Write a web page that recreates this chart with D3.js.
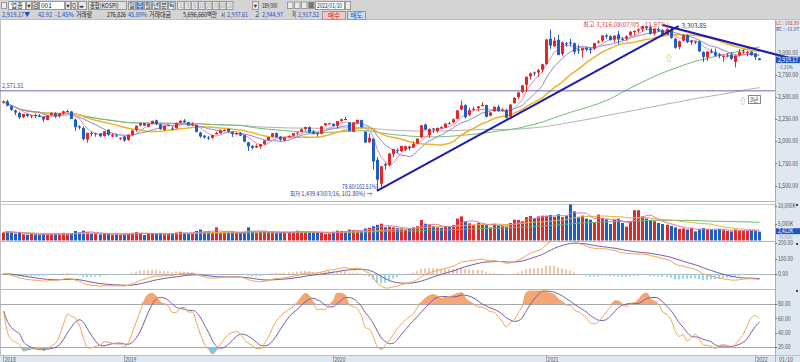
<!DOCTYPE html>
<html>
<head>
<meta charset="utf-8">
<script src="https://cdnjs.cloudflare.com/ajax/libs/d3/7.8.5/d3.min.js"></script>
<style>
body { margin: 0; background: #fff; }
svg { display: block; font-family: "Noto Sans CJK KR", "DejaVu Sans", sans-serif; }
</style>
</head>
<body>
<div id="chart"></div>
<script>
var w = 800, h = 362;
var plotRight = 775;

// Weekly KOSPI candles [open, high, low, close], first week = 2018/06/04
var ohlc2018 = [
	[2437,2461,2427,2451],[2451,2470,2396,2404],[2399,2410,2343,2357],[2349,2359,2297,2326],
	[2320,2337,2252,2272],[2275,2310,2262,2310],[2308,2314,2273,2289],[2285,2296,2262,2294],
	[2299,2314,2265,2287],[2287,2310,2275,2282],[2278,2286,2218,2247],[2240,2295,2240,2293],
	[2298,2325,2297,2322],[2318,2330,2267,2282],[2284,2318,2268,2318],[2317,2348,2306,2339],
	[2340,2356,2329,2343],[2338,2343,2253,2253],[2245,2259,2118,2161],[2170,2181,2136,2156],
	[2150,2167,2008,2027],[2020,2096,1985,2096],[2093,2110,2055,2086],[2080,2095,2052,2092],
	[2090,2095,2047,2057],[2060,2117,2052,2114],[2131,2136,2062,2075],[2055,2089,2046,2069],
	[2066,2083,2052,2061],[2037,2046,2014,2041]
];
var ohlc2019 = [
	[2050,2062,1993,2011],[2017,2078,2003,2075],[2070,2124,2064,2124],[2127,2178,2110,2177],
	[2180,2210,2170,2204],[2205,2206,2176,2177],[2165,2205,2158,2196],[2199,2235,2194,2231],
	[2238,2246,2182,2195],[2190,2202,2132,2137],[2130,2180,2120,2176],[2178,2188,2170,2186],
	[2145,2165,2128,2140],[2148,2210,2145,2209],[2210,2237,2200,2233],[2235,2252,2210,2216],
	[2217,2220,2176,2179],[2180,2215,2175,2196],[2185,2190,2100,2108],[2098,2110,2040,2055],
	[2065,2070,2030,2045],[2043,2060,2016,2041],[2040,2075,2030,2072],[2080,2108,2078,2095],
	[2090,2135,2085,2126],[2125,2136,2115,2130],[2140,2145,2100,2110],[2110,2112,2050,2086],
	[2087,2102,2070,2094],[2090,2106,2060,2066],[2070,2078,1990,1998],[1990,1995,1891,1943],
	[1950,1955,1910,1927],[1930,1965,1925,1948],[1940,1970,1915,1967],[1970,2010,1960,2009],
	[2015,2050,2010,2049],[2052,2095,2050,2091],[2092,2100,2045,2049],[2052,2060,2005,2020],
	[2010,2048,2000,2044],[2050,2070,2040,2060],[2063,2094,2060,2093],[2090,2100,2075,2100],
	[2110,2145,2105,2137],[2140,2165,2120,2162],[2160,2170,2095,2101],[2110,2126,2080,2087],
	[2095,2100,2055,2081],[2085,2172,2080,2170],[2180,2205,2170,2204],[2200,2210,2190,2204]
];
var ohlc2020 = [
	[2200,2202,2164,2176],[2175,2230,2141,2229],[2230,2255,2222,2250],[2253,2277,2240,2246],
	[2215,2217,2114,2119],[2110,2212,2108,2212],[2210,2245,2200,2243],[2240,2245,2150,2162],
	[2110,2112,1980,1987],[1990,2090,1980,2040],[2030,2032,1680,1771],[1790,1820,1439,1566],
	[1520,1720,1482,1717],[1740,1760,1680,1725],[1730,1870,1715,1860],[1855,1915,1820,1914],
	[1900,1920,1870,1889],[1890,1950,1880,1947],[1910,1950,1890,1945],[1942,1950,1900,1927],
	[1930,1995,1925,1970],[1975,2035,1970,2030],[2045,2185,2040,2181],[2190,2200,2130,2132],
	[2070,2145,2040,2141],[2145,2150,2095,2134],[2115,2155,2100,2152],[2160,2170,2140,2150],
	[2155,2205,2150,2201],[2205,2220,2195,2200],[2215,2260,2205,2249],[2255,2355,2250,2351],
	[2360,2460,2350,2407],[2410,2420,2260,2274],[2300,2380,2285,2353],[2360,2390,2340,2368],
	[2375,2400,2340,2396],[2400,2440,2395,2412],[2410,2415,2270,2278],[2290,2330,2285,2327],
	[2340,2395,2335,2391],[2390,2412,2335,2341],[2350,2375,2340,2360],[2350,2370,2260,2267],
	[2280,2420,2270,2416],[2430,2500,2430,2493],[2500,2560,2480,2553],[2560,2640,2545,2633],
	[2640,2735,2560,2731],[2735,2780,2700,2770],[2780,2790,2740,2772],[2780,2820,2730,2806],
	[2810,2878,2780,2873]
];
var ohlc2021 = [
	[2874,3161,2869,3152],[3161,3266,3047,3085],[3076,3180,3070,3140],[3150,3209,2976,2976],
	[2990,3130,2970,3120],[3110,3125,3070,3100],[3120,3160,3075,3107],[3110,3120,2988,3013],
	[3040,3095,2990,3026],[3030,3060,2950,3054],[3060,3070,3020,3039],[3050,3060,2995,3041],
	[3050,3115,3035,3112],[3120,3145,3105,3131],[3140,3200,3125,3198],[3200,3215,3160,3186],
	[3190,3200,3140,3147],[3150,3200,3120,3197],[3210,3250,3100,3153],[3160,3180,3140,3156],
	[3165,3200,3140,3188],[3200,3250,3190,3240],[3245,3255,3200,3249],[3255,3280,3230,3267],
	[3270,3305,3240,3302],[3300,3305,3260,3281],[3290,3316,3210,3217],[3220,3280,3200,3276],
	[3270,3290,3240,3254],[3260,3270,3190,3202],[3210,3280,3200,3270],[3270,3290,3160,3171],
	[3160,3170,3050,3060],[3070,3140,3040,3133],[3140,3210,3130,3201],[3200,3210,3110,3125],
	[3120,3150,3090,3140],[3130,3135,3100,3125],[3130,3140,3010,3019],[3010,3020,2900,2956],
	[2950,3020,2910,3015],[3020,3050,2995,3006],[3010,3050,2960,2970],[2980,3000,2940,2969],
	[2965,2975,2900,2968],[2970,3000,2950,2971],[2980,3010,2920,2936],[2900,2975,2837,2968],
	[2975,3045,2960,3010],[3010,3040,2990,3017],[3000,3025,2960,3012],[3015,3020,2970,2977]
];
var ohlc2022 = [
	[2990,3000,2920,2954],[2937.61,2944.97,2917.52,2919.17]
];

// Weekly volume, thousand shares
var vol2018 = [2200,2500,2300,1900,2100,1700,1600,1800,1700,1500,1900,1600,1700,1800,1600,2100,1700,1900,2600,2200,
	2700,2300,1900,1800,1700,2000,1800,1600,1700,1500];
var vol2019 = [1600,2000,2100,2300,2000,1500,1800,2000,1800,2100,1700,1800,1900,2200,2400,2100,1900,2000,2600,3000,
	2400,2500,2200,3600,2000,2300,2400,2300,2100,2100,2400,3600,2500,2200,2400,2400,2300,2200,2000,2100,
	2200,2300,2400,2700,2500,2300,2100,2200,2300,2200,1800,1900];
var vol2020 = [2400,2700,2600,2500,3000,2900,2700,2600,3300,3500,3900,4300,4600,3600,3800,3600,3400,3300,3000,3200,
	3600,3900,5600,4600,4200,3900,3600,3500,3800,3900,4200,6000,6600,5200,4700,4300,4800,4400,4200,3600,
	4600,4100,3900,3800,4800,5700,5600,5300,6400,6700,6100,6600,6800];
var vol2021 = [6800,7000,6500,7200,6400,6800,9900,8000,6500,6800,6000,5700,4900,7100,6200,5800,4500,5600,6000,4800,
	3800,5200,8300,8300,6600,6000,5600,5300,4800,4500,4300,4000,3600,3200,3300,3000,3500,2500,3100,3400,
	3000,3000,2900,3200,2800,2600,2500,3000,2700,2700,2600,2800];
var vol2022 = [2600,2412];

// Axis values
var priceTicks = [1500, 1750, 2000, 2250, 2500, 2750, 3000];
var volTicks = [5000, 10000];
var macdTicks = [0, 100, 200];
var stochTicks = [20, 40, 60, 80];
var yearTicks = [["2018", 0], ["2019", 30], ["2020", 82], ["2021", 135], ["2022", 187]];

// Marked values
var refLine = 2571.51;
var upTrend = [[93, 1439.43], [168, 3303.85]];
var downTrend = [[164, 3316.08], [198, 2915]];

var candles = ohlc2018.concat(ohlc2019, ohlc2020, ohlc2021, ohlc2022);
var volumes = vol2018.concat(vol2019, vol2020, vol2021, vol2022);
var closes = candles.map(function(d) { return d[3]; });

/* ##########################################################################
#### Indicator helpers
# */
var movingAvg = function(arr, n) {
	return arr.map(function(d, i) {
		return d3.mean(arr.slice(Math.max(0, i - n + 1), i + 1));
	});
};

var ema = function(arr, n) {
	var k = 2 / (n + 1), prev, out = [];
	arr.forEach(function(v, i) {
		prev = (i === 0) ? v : prev + k * (v - prev);
		out.push(prev);
	});
	return out;
};

var ema12 = ema(closes, 12), ema26 = ema(closes, 26);
var macd = ema12.map(function(d, i) { return d - ema26[i]; });
var signal = ema(macd, 9);
var osc = macd.map(function(d, i) { return d - signal[i]; });

// Slow stochastic 12,5,5
var fastK = candles.map(function(d, i) {
	var win = candles.slice(Math.max(0, i - 11), i + 1);
	var hh = d3.max(win, function(c) { return c[1]; });
	var ll = d3.min(win, function(c) { return c[2]; });
	return hh === ll ? 50 : (d[3] - ll) / (hh - ll) * 100;
});
var slowK = movingAvg(fastK, 5);
var slowD = movingAvg(slowK, 5);

/* ##########################################################################
#### Scales
# */
var x = d3.scaleLinear().domain([0, 188]).range([3, 759]);
var yP = d3.scaleLinear().domain([1500, 3000]).range([185.5, 53]);
var yV = d3.scaleLinear().domain([0, 10000]).range([240.5, 204]);
var yM = d3.scaleLinear().domain([0, 200]).range([273.8, 243.3]);
var yS = d3.scaleLinear().domain([20, 80]).range([347.3, 304]);

var upColor = "#e02828", downColor = "#1f5ec6";
var axisFill = "#dfe7f1";

// squeeze a label into the width the HTS font would use
var fit = function(sel, str, perChar) {
	var n = 0;
	for (var k = 0; k < str.length; k++) { n += str.charCodeAt(k) > 0x2e80 ? 2 : 1; }
	return sel.text(str).attr("textLength", n * perChar).attr("lengthAdjust", "spacingAndGlyphs");
};

var svg = d3.select("#chart").append("svg")
	.attr("width", w)
	.attr("height", h);

svg.append("rect").attr("width", w).attr("height", h).attr("fill", "#fff");

// Clip areas for the four panels
var panels = [["clipMain", 20, 181], ["clipVol", 201, 40], ["clipMacd", 241, 48], ["clipStoch", 289, 66]];
var defs = svg.append("defs");
panels.forEach(function(p) {
	defs.append("clipPath").attr("id", p[0])
		.append("rect").attr("x", 0).attr("y", p[1]).attr("width", plotRight).attr("height", p[2]);
});

// Axis strips
svg.append("rect").attr("x", plotRight).attr("y", 20).attr("width", w - plotRight).attr("height", h - 20).attr("fill", axisFill);
svg.append("rect").attr("x", 0).attr("y", 355).attr("width", w).attr("height", 7).attr("fill", axisFill);

var frame = svg.append("g").attr("class", "frame");
[201.5, 241.5, 289.5].forEach(function(yy) {
	frame.append("line").attr("x1", 0).attr("x2", plotRight).attr("y1", yy).attr("y2", yy)
		.attr("stroke", "#b9b9b9");
});
frame.append("line").attr("x1", plotRight + 0.5).attr("x2", plotRight + 0.5).attr("y1", 20).attr("y2", h)
	.attr("stroke", "#9fb0c6");
frame.append("line").attr("x1", 0.5).attr("x2", 0.5).attr("y1", 20).attr("y2", 355)
	.attr("stroke", "#c0c0c0");
frame.append("line").attr("x1", 0).attr("x2", w).attr("y1", 355.5).attr("y2", 355.5)
	.attr("stroke", "#b4c2d4");

// Reference grid lines
frame.append("line").attr("x1", 0).attr("x2", plotRight).attr("y1", Math.round(yV(10000)) + 0.5).attr("y2", Math.round(yV(10000)) + 0.5)
	.attr("stroke", "#c8c8c8");
frame.append("line").attr("x1", 0).attr("x2", plotRight).attr("y1", Math.round(yM(0)) + 0.5).attr("y2", Math.round(yM(0)) + 0.5)
	.attr("stroke", "#b0b0b0");
[20, 80].forEach(function(v) {
	frame.append("line").attr("x1", 0).attr("x2", plotRight).attr("y1", Math.round(yS(v)) + 0.5).attr("y2", Math.round(yS(v)) + 0.5)
		.attr("stroke", "#a8a8a8");
});

/* ##########################################################################
#### Price panel
# */
var main = svg.append("g").attr("clip-path", "url(#clipMain)");

var priceLine = function(arr) {
	return d3.line().x(function(d, i) { return x(i) + 0.5; }).y(function(d) { return yP(d); })(arr);
};

var maSpecs = [[120, "#b0b0b0", 1], [60, "#74b874", 1], [20, "#eeb22c", 1.5], [10, "#8c8cc8", 1], [5, "#e58ab8", 1]];
maSpecs.forEach(function(m) {
	main.append("path")
		.attr("d", priceLine(movingAvg(closes, m[0])))
		.attr("fill", "none")
		.attr("stroke", m[1])
		.attr("stroke-width", m[2]);
});

// 2,571.51 horizontal line
main.append("line")
	.attr("x1", 0).attr("x2", plotRight)
	.attr("y1", yP(refLine)).attr("y2", yP(refLine))
	.attr("stroke", "#6a6aae").attr("stroke-width", 1);

var candle = main.selectAll("g.candle")
	.data(candles)
	.enter()
	.append("g")
		.attr("class", "candle")
		.attr("fill", function(d) { return d[3] >= d[0] ? upColor : downColor; });

candle.append("rect")
	.attr("x", function(d, i) { return Math.round(x(i)); })
	.attr("width", 1)
	.attr("y", function(d) { return yP(d[1]); })
	.attr("height", function(d) { return yP(d[2]) - yP(d[1]); });

candle.append("rect")
	.attr("x", function(d, i) { return Math.round(x(i)) - 1; })
	.attr("width", 3)
	.attr("y", function(d) { return yP(Math.max(d[0], d[3])); })
	.attr("height", function(d) { return Math.max(1, Math.abs(yP(d[0]) - yP(d[3]))); });

// Trend lines
var trend = svg.append("g").attr("class", "trend");
[upTrend, downTrend].forEach(function(t) {
	trend.append("line")
		.attr("x1", x(t[0][0])).attr("y1", yP(t[0][1]))
		.attr("x2", x(t[1][0])).attr("y2", yP(t[1][1]))
		.attr("stroke", "#1c1ca8").attr("stroke-width", 2);
});

var notes = svg.append("g").attr("font-size", "6.5px");
fit(notes.append("text").attr("x", 2).attr("y", yP(refLine) - 2.5).attr("fill", "#4a4a98"), "2,571.51", 2.7);
fit(notes.append("text").attr("x", x(upTrend[1][0]) + 3).attr("y", yP(upTrend[1][1]) + 1.5).attr("fill", "#2a2a8a"), "3,303.85", 3.1);
fit(notes.append("text").attr("x", 583).attr("y", yP(3316.08) + 2).attr("fill", "#d04848"),
	"최고 3,316.08(07/05, -11.97%)", 2.95);
fit(notes.append("text").attr("x", 290).attr("y", 195.5).attr("fill", "#2a3a9a").attr("font-size", "6px"),
	"최저 1,439.43(03/16, 102.80%) →", 2.65);
fit(notes.append("text").attr("x", 342).attr("y", 189).attr("fill", "#2a3a9a").attr("font-size", "6px"),
	"78.60(102.51%)", 2.55);

// Small markers
notes.append("text").attr("x", 665).attr("y", 61).attr("fill", "#a8a020").attr("font-size", "8px").text("⇧");
notes.append("text").attr("x", 739).attr("y", 104).attr("fill", "#a8a020").attr("font-size", "8px").text("⇧");
notes.append("rect").attr("x", 748.5).attr("y", 95.5).attr("width", 12).attr("height", 8).attr("fill", "#fff").attr("stroke", "#888");
notes.append("text").attr("x", 750).attr("y", 102).attr("fill", "#333").attr("font-size", "5.5px").text("3년");

/* ##########################################################################
#### Volume panel
# */
var vol = svg.append("g").attr("clip-path", "url(#clipVol)");

vol.selectAll("rect")
	.data(volumes)
	.enter()
	.append("rect")
		.attr("x", function(d, i) { return Math.round(x(i)) - 1; })
		.attr("width", 3)
		.attr("y", function(d) { return yV(d); })
		.attr("height", function(d) { return yV(0) - yV(d); })
		.attr("fill", function(d, i) { return candles[i][3] >= candles[i][0] ? upColor : downColor; });

[[60, "#6cb86c"], [20, "#e8b040"], [5, "#e07aa8"]].forEach(function(m) {
	vol.append("path")
		.attr("d", d3.line().x(function(d, i) { return x(i) + 0.5; }).y(function(d) { return yV(d); })(movingAvg(volumes, m[0])))
		.attr("fill", "none").attr("stroke", m[1]).attr("stroke-width", 1);
});

/* ##########################################################################
#### MACD panel
# */
var mp = svg.append("g").attr("clip-path", "url(#clipMacd)");

mp.selectAll("rect")
	.data(osc)
	.enter()
	.append("rect")
		.attr("x", function(d, i) { return Math.round(x(i)) - 1; })
		.attr("width", 2)
		.attr("y", function(d) { return Math.min(yM(d), yM(0)); })
		.attr("height", function(d) { return Math.abs(yM(d) - yM(0)); })
		.attr("fill", function(d) { return d >= 0 ? "#f6c4a4" : "#98d6f0"; });

[[signal, "#7a5aa6"], [macd, "#f0a458"]].forEach(function(s) {
	mp.append("path")
		.attr("d", d3.line().x(function(d, i) { return x(i) + 0.5; }).y(function(d) { return yM(d); })(s[0]))
		.attr("fill", "none").attr("stroke", s[1]).attr("stroke-width", 1);
});

/* ##########################################################################
#### Stochastic panel
# */
var sp = svg.append("g").attr("clip-path", "url(#clipStoch)");

sp.append("path")
	.attr("d", d3.area().curve(d3.curveMonotoneX).x(function(d, i) { return x(i) + 0.5; })
		.y0(yS(80)).y1(function(d) { return yS(Math.max(80, d)); })(slowK))
	.attr("fill", "#f4a676");
sp.append("path")
	.attr("d", d3.area().curve(d3.curveMonotoneX).x(function(d, i) { return x(i) + 0.5; })
		.y0(yS(20)).y1(function(d) { return yS(Math.min(20, d)); })(slowK))
	.attr("fill", "#74c8ee");

[[slowD, "#7a5aa6"], [slowK, "#f0a458"]].forEach(function(s) {
	sp.append("path")
		.attr("d", d3.line().curve(d3.curveMonotoneX).x(function(d, i) { return x(i) + 0.5; }).y(function(d) { return yS(d); })(s[0]))
		.attr("fill", "none").attr("stroke", s[1]).attr("stroke-width", 1);
});

/* ##########################################################################
#### Right axis labels
# */
var axis = svg.append("g").attr("font-size", "6px").attr("fill", "#555");
var fmt2 = d3.format(",.2f");

var tickLabel = function(yy, label) {
	axis.append("line").attr("x1", plotRight).attr("x2", plotRight + 2).attr("y1", Math.round(yy) + 0.5).attr("y2", Math.round(yy) + 0.5)
		.attr("stroke", "#777");
	fit(axis.append("text").attr("x", plotRight + 3).attr("y", yy + 2.1), label, 2.5);
};

priceTicks.forEach(function(v) { tickLabel(yP(v), fmt2(v)); });
volTicks.forEach(function(v) { tickLabel(yV(v) + 1.5, d3.format(",")(v) + "K"); });
macdTicks.forEach(function(v) { tickLabel(yM(v), fmt2(v)); });
stochTicks.forEach(function(v) { tickLabel(yS(v), fmt2(v)); });

fit(axis.append("text").attr("x", plotRight + 1).attr("y", 25).attr("fill", "#d03838").attr("font-size", "5px"), "LC : 102.80", 2.1);
fit(axis.append("text").attr("x", plotRight + 1).attr("y", 30.5).attr("fill", "#2a4aa8").attr("font-size", "5px"), "RC : -11.97", 2.1);

// Current price and volume boxes
var last = candles[candles.length - 1];
axis.append("rect").attr("x", plotRight + 1).attr("y", yP(last[3]) - 3.5).attr("width", 24).attr("height", 6.5).attr("fill", "#2456c0");
fit(axis.append("text").attr("x", plotRight + 3).attr("y", yP(last[3]) + 1.8).attr("fill", "#fff"), fmt2(last[3]), 2.5);
fit(axis.append("text").attr("x", plotRight + 4).attr("y", yP(last[3]) + 8.8).attr("fill", "#2a4aa8").attr("font-size", "4.5px"), "-1.21%", 2.3);

var lastVol = volumes[volumes.length - 1];
axis.append("rect").attr("x", plotRight + 1).attr("y", yV(lastVol) - 3.5).attr("width", 24).attr("height", 6).attr("fill", "#2456c0");
fit(axis.append("text").attr("x", plotRight + 3).attr("y", yV(lastVol) + 1.5).attr("fill", "#fff"), d3.format(",")(lastVol) + "K", 2.5);
fit(axis.append("text").attr("x", plotRight + 4).attr("y", yV(lastVol) + 7).attr("fill", "#8a9ab8").attr("font-size", "4.5px"), "76.96%", 2.2);

// Panel markers
[204, 243, 290].forEach(function(yy) {
	axis.append("rect").attr("x", 796).attr("y", yy).attr("width", 2).attr("height", 2).attr("fill", "#444");
});

// Time axis
var xlab = svg.append("g").attr("font-size", "6px").attr("fill", "#555");
yearTicks.forEach(function(t) {
	xlab.append("line").attr("x1", Math.round(x(t[1])) + 0.5).attr("x2", Math.round(x(t[1])) + 0.5)
		.attr("y1", 355).attr("y2", 362).attr("stroke", "#9aa8bc");
	fit(xlab.append("text").attr("x", x(t[1]) + 1.5).attr("y", 361.5), t[0], 2.8);
});
fit(xlab.append("text").attr("x", plotRight + 4).attr("y", 361.5), "01/10", 2.8);

/* ##########################################################################
#### Toolbar
# */
var bar = svg.append("g").attr("font-size", "6.5px");
bar.append("rect").attr("width", w).attr("height", 20).attr("fill", "#d4d4d4");
bar.append("line").attr("x1", 0).attr("x2", w).attr("y1", 19.5).attr("y2", 19.5).attr("stroke", "#bdbdbd");

var box = function(bx, by, bw, bh, fill, label, color) {
	bar.append("rect").attr("x", bx + 0.5).attr("y", by + 0.5).attr("width", bw).attr("height", bh)
		.attr("fill", fill).attr("stroke", "#9a9a9a");
	if (label) {
		var t = bar.append("text").attr("x", bx + bw / 2 + 0.5).attr("y", by + bh - 1.5).attr("text-anchor", "middle")
			.attr("fill", color || "#222");
		if (label.length > 1 && label.charCodeAt(0) < 0x2e80) {
			fit(t, label, Math.min(2.6, (bw - 1.5) / label.length));
		} else {
			t.text(label);
		}
	}
};

box(1, 2, 5, 6, "#eee", "", "");
box(8, 1, 17, 8, "#fff", "업종", "#222");
box(26, 1, 5, 8, "#e8e8e8", "▾", "#333");
box(32, 1, 6, 8, "#e8e8e8", "검", "#333");
box(39, 1, 25, 8, "#fff", "", "");
bar.append("text").attr("x", 41).attr("y", 7.5).attr("fill", "#222").text("001");
box(65, 1, 5, 8, "#e8e8e8", "▾", "#333");
box(71, 1, 6, 8, "#e8e8e8", "", "");
bar.append("text").attr("x", 72).attr("y", 7.5).attr("fill", "#333").attr("font-size", "5.5px").text("Q");
box(78, 1, 8, 8, "#e8e8e8", "", "");
bar.append("text").attr("x", 79).attr("y", 7.5).attr("fill", "#333").attr("font-size", "5px").text("◂▸");
box(88, 1, 38, 8, "#e0e0e0", "", "");
fit(bar.append("text").attr("x", 90).attr("y", 7.5).attr("fill", "#222"), "종합(KOSPI)", 2.6);

var periods = ["일", "주", "월", "년", "분", "틱"];
periods.forEach(function(p, i) {
	box(128 + i * 8, 1, 7, 8, i === 1 ? "#3a78d0" : "#eaeaea", p, i === 1 ? "#fff" : "#333");
});
var nums = ["1", "3", "5", "10", "20", "30", "60", "120"];
nums.forEach(function(n, i) {
	box(177 + i * 7, 1, 6.5, 8, "#e4e4e4", n, "#aaa");
});
box(252, 1, 6, 8, "#e8e8e8", "▾", "#333");
fit(bar.append("text").attr("x", 262).attr("y", 7.5).attr("fill", "#222"), "189/300", 2.2);
[287, 294, 301, 308].forEach(function(bx, i) {
	box(bx, 1.5, 5.5, 6.5, i === 3 ? "#777" : "#eaeaea", "", "");
});
box(315, 1, 29, 8, "#fff", "", "");
fit(bar.append("text").attr("x", 317).attr("y", 7.5).attr("fill", "#222"), "2022/01/10", 2.5);
box(345, 1, 5, 8, "#eaeaea", "", "");

var info = [
	[2, "2,919.17▼", "#1f4fc0", 28], [38, "42.92", "#1f4fc0", 14], [55, "-1.45%", "#1f4fc0", 19], [76, "거래량", "#222", 16],
	[107, "276,826", "#222", 19], [128, "45.89%", "#1f4fc0", 19], [149, "거래대금", "#222", 22], [183, "5,696,660백만", "#222", 34],
	[221, "시", "#222", 4], [227, "2,937.61", "#1f4fc0", 21], [255, "고", "#222", 4], [262, "2,944.97", "#1f4fc0", 21],
	[292, "저", "#222", 4], [298, "2,917.52", "#1f4fc0", 21]
];
info.forEach(function(t) {
	bar.append("text").attr("x", t[0]).attr("y", 17).attr("fill", t[2])
		.attr("textLength", t[3]).attr("lengthAdjust", "spacingAndGlyphs").text(t[1]);
});
box(322, 11, 23, 8, "#f4c8c8", "매수", "#c02020");
box(347, 11, 18, 8, "#c8dcf4", "매도", "#1f4fc0");
</script>
</body>
</html>
